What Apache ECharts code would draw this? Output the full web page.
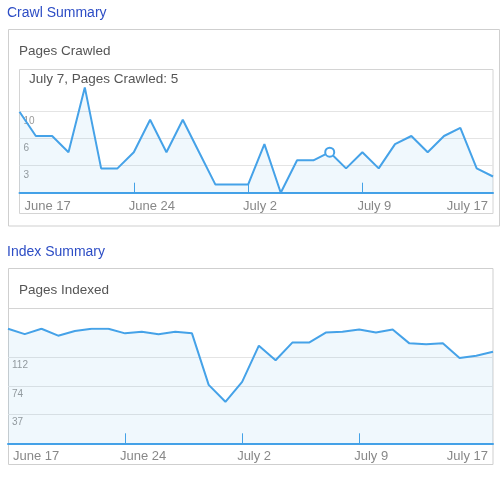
<!DOCTYPE html>
<html>
<head>
<meta charset="utf-8">
<script src="https://cdn.jsdelivr.net/npm/echarts@6/dist/echarts.min.js"></script>
<style>
  html, body { margin: 0; padding: 0; background: #fff; }
  #main { width: 500px; height: 483px; }
</style>
</head>
<body>
<div id="main"></div>
<script>
// dates on the x axis (one day missing in the feed, as in the original report)
var days = ['June 17','June 18','June 19','June 20','June 21','June 22','June 23','June 24',
  'June 25','June 26','June 27','June 28','June 29','July 1','July 2','July 3','July 4',
  'July 5','July 6','July 7','July 8','July 9','July 10','July 11','July 12','July 13',
  'July 14','July 15','July 16','July 17'];
var labelIdx = [0, 7, 14, 21, 29];
var tickIdx = [7, 14, 21];

// pages crawled per day
var crawled = [10, 7, 7, 5, 13, 3, 3, 5, 9, 5, 9, 5, 1, 1, 1, 6, 0, 4, 4, 5, 3, 5, 3, 6, 7, 5, 7, 8, 3, 2];
var crawlYLabels = ['3', '6', '10'];
var markedDay = 19; // July 7

// pages indexed per day
var indexed = [149, 142, 149, 140, 146, 149, 149, 143, 145, 142, 145, 143, 76, 54, 80, 127, 108,
  131, 131, 144, 145, 148, 144, 148, 130, 129, 130, 111, 114, 119];
var indexYLabels = ['37', '74', '112'];

var blue = '#45a2e8';
var font = 'Arial, "Liberation Sans", sans-serif';

var chart = echarts.init(document.getElementById('main'));

function xAxisFor(gridIndex) {
    return {
        type: 'category',
        gridIndex: gridIndex,
        data: days,
        boundaryGap: false,
        axisLine: { lineStyle: { color: blue, width: 2 } },
        axisTick: {
            inside: true, length: 10,
            lineStyle: { color: blue, width: 1 },
            interval: function (i) { return tickIdx.indexOf(i) >= 0; }
        },
        axisLabel: {
            interval: function (i) { return labelIdx.indexOf(i) >= 0; },
            color: '#888', fontSize: 13, fontFamily: font, margin: 7,
            align: 'left', alignMaxLabel: 'right',
            padding: [0, 5, 0, -5],
            showMinLabel: true, showMaxLabel: true, hideOverlap: false,
            formatter: function (v, i) { return i === 0 ? '{f|' + v + '}' : v; },
            rich: { f: { padding: [0, 0, 0, 10], color: '#888', fontSize: 13, fontFamily: font } }
        },
        splitLine: { show: false }
    };
}

function yAxisFor(gridIndex, step, top, labels, pad) {
    return {
        type: 'value',
        gridIndex: gridIndex,
        min: 0, max: top, interval: step,
        axisLine: { show: false },
        axisTick: { show: false },
        axisLabel: {
            inside: true, margin: 4, verticalAlign: 'top', padding: [pad, 0, 0, 0],
            color: '#999', fontSize: 10, fontFamily: font,
            showMinLabel: false, showMaxLabel: false,
            formatter: function (v) {
                var k = Math.round(v / step) - 1;
                return labels[k] || '';
            }
        },
        splitLine: { show: true, showMaxLine: false, lineStyle: { color: '#e4e4e4', width: 1 } }
    };
}

var crawlData = crawled.map(function (v, i) {
    if (i === markedDay) {
        return { value: v, symbol: 'emptyCircle', symbolSize: 9, itemStyle: { borderWidth: 1.5 } };
    }
    return v;
});

var option = {
    backgroundColor: '#fff',
    animation: false,
    title: [
        { text: 'Crawl Summary', left: 7, top: 6, padding: 0,
          textStyle: { color: '#2d4dc5', fontSize: 14, fontWeight: 'normal', fontFamily: font } },
        { text: 'Pages Crawled', left: 19, top: 44, padding: 0,
          textStyle: { color: '#555', fontSize: 13.5, fontWeight: 'normal', fontFamily: font } },
        { text: 'July 7, Pages Crawled: 5', left: 29, top: 72, padding: 0,
          textStyle: { color: '#555', fontSize: 13.5, fontWeight: 'normal', fontFamily: font } },
        { text: 'Index Summary', left: 7, top: 245, padding: 0,
          textStyle: { color: '#2d4dc5', fontSize: 14, fontWeight: 'normal', fontFamily: font } },
        { text: 'Pages Indexed', left: 19, top: 283.5, padding: 0,
          textStyle: { color: '#555', fontSize: 13.5, fontWeight: 'normal', fontFamily: font } }
    ],
    graphic: [
        { type: 'rect', shape: { x: 8.5, y: 29.5, width: 491, height: 196.5 },
          style: { fill: 'none', stroke: '#cfcfcf', lineWidth: 1 } },
        { type: 'rect', shape: { x: 19.5, y: 69.5, width: 473.5, height: 144 },
          style: { fill: 'none', stroke: '#d4d4d4', lineWidth: 1 } },
        { type: 'rect', shape: { x: 8.5, y: 268.5, width: 484.5, height: 196 },
          style: { fill: 'none', stroke: '#cfcfcf', lineWidth: 1 } },
        { type: 'line', shape: { x1: 8.5, y1: 308.5, x2: 493, y2: 308.5 },
          style: { stroke: '#d4d4d4', lineWidth: 1 } }
    ],
    grid: [
        { left: 19.5, right: 7, top: 84.7, height: 108, outerBoundsMode: 'none' },
        { left: 8, right: 7, top: 328.5, height: 114.8, outerBoundsMode: 'none' }
    ],
    xAxis: [xAxisFor(0), xAxisFor(1)],
    yAxis: [
        yAxisFor(0, 10 / 3, 40 / 3, crawlYLabels, 5),
        yAxisFor(1, 112 / 3, 448 / 3, indexYLabels, 3)
    ],
    series: [
        {
            name: 'Pages Crawled', type: 'line', xAxisIndex: 0, yAxisIndex: 0,
            data: crawlData, symbol: 'none', showSymbol: true,
            lineStyle: { color: blue, width: 2 },
            itemStyle: { color: blue },
            areaStyle: { color: 'rgba(69,162,232,0.11)' }
        },
        {
            name: 'Pages Indexed', type: 'line', xAxisIndex: 1, yAxisIndex: 1,
            data: indexed, symbol: 'none',
            lineStyle: { color: blue, width: 2 },
            itemStyle: { color: blue },
            areaStyle: { color: 'rgba(69,162,232,0.11)' }
        }
    ]
};

chart.setOption(option);
window.onresize = function () { chart.resize(); };
</script>
</body>
</html>
